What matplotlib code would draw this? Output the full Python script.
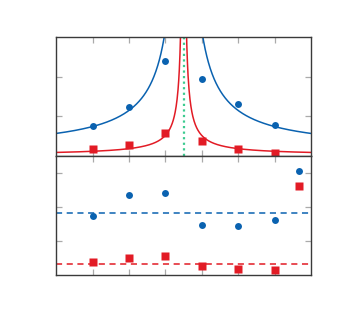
import matplotlib
matplotlib.use("Agg")
import matplotlib.pyplot as plt
import numpy as np

blue = "#0a62b0"
red = "#e21b25"
green = "#3ccb90"

# top panel: measured points
x_pts = [1, 2, 3, 4, 5, 6]
top_blue = [0.77, 1.24, 2.39, 1.93, 1.32, 0.78]
top_red = [0.17, 0.27, 0.57, 0.37, 0.18, 0.08]

# fit curves  y = a/|x - xc| + b
xc = 3.5
fit_blue = (1.52, 0.136)
fit_red = (0.25, 0.02)

# bottom panel
x_bot = [1, 2, 3, 4, 5, 6, 6.67]
bot_blue = [1.74, 2.35, 2.40, 1.48, 1.45, 1.61, 3.07]
bot_red = [0.37, 0.51, 0.56, 0.27, 0.19, 0.15, 2.62]
mean_blue = 1.84
mean_red = 0.34

fig = plt.figure(figsize=(3.38, 3.14), dpi=100)
ax1 = fig.add_axes([0.166, 0.503, 0.754, 0.379])
ax2 = fig.add_axes([0.166, 0.124, 0.754, 0.379])

for ax in (ax1, ax2):
    ax.set_xlim(0, 7)
    ax.set_xticks([1, 2, 3, 4, 5, 6])
    ax.tick_params(direction="in", length=4, width=0.9, color="#aaaaaa",
                   top=True, right=True, labelbottom=False, labelleft=False)
    for s in ax.spines.values():
        s.set_color("#3a3a3a")
        s.set_linewidth(1.0)

# top
for side in (-1, 1):
    if side < 0:
        xx = np.linspace(0, xc - 0.02, 400)
    else:
        xx = np.linspace(xc + 0.02, 7, 400)
    d = np.abs(xx - xc)
    ax1.plot(xx, fit_blue[0] / d + fit_blue[1], color=blue, lw=1.1)
    ax1.plot(xx, fit_red[0] / d + fit_red[1], color=red, lw=1.1)
ax1.axvline(xc, color=green, lw=1.6, ls=(0, (1, 1.5)))
ax1.plot(x_pts, top_blue, "o", color=blue, ms=5, mec="none")
ax1.plot(x_pts, top_red, "s", color=red, ms=5.5, mec="none")
ax1.set_ylim(0, 3)
ax1.set_yticks([1, 2])

# bottom
ax2.axhline(mean_blue, color=blue, lw=1.1, ls=(0, (4, 3)))
ax2.axhline(mean_red, color=red, lw=1.1, ls=(0, (4, 3)))
ax2.plot(x_bot, bot_blue, "o", color=blue, ms=5, mec="none")
ax2.plot(x_bot, bot_red, "s", color=red, ms=5.5, mec="none")
ax2.set_ylim(0, 3.5)
ax2.set_yticks([1, 2, 3])

fig.savefig("out.png", dpi=100)
